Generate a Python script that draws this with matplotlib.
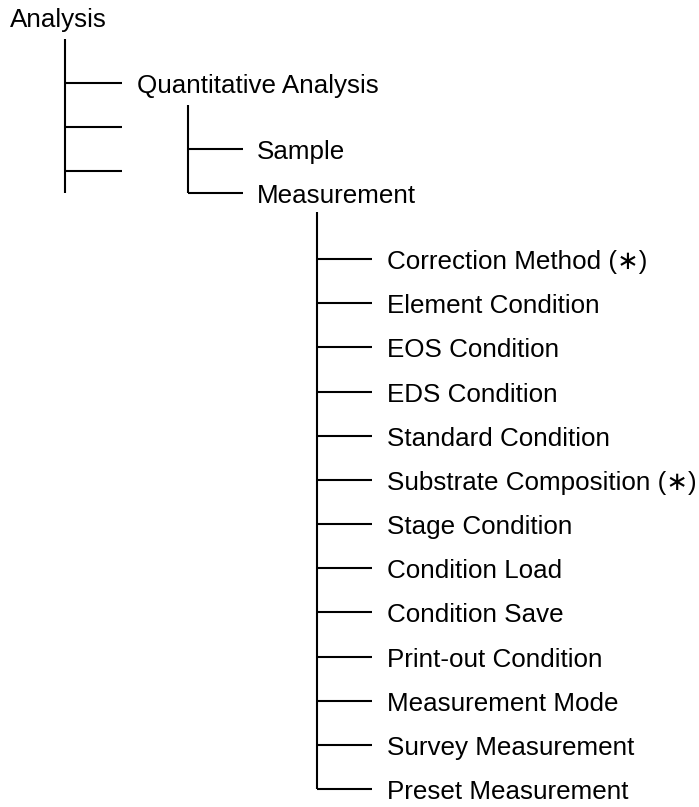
import matplotlib
matplotlib.use("Agg")
import matplotlib.pyplot as plt

# tree content
root = "Analysis"
level1 = ["Quantitative Analysis", "", ""]
level2 = ["Sample", "Measurement"]
level3 = ["Correction Method (\u2217)", "Element Condition", "EOS Condition", "EDS Condition",
          "Standard Condition", "Substrate Composition (\u2217)", "Stage Condition",
          "Condition Load", "Condition Save", "Print-out Condition", "Measurement Mode",
          "Survey Measurement", "Preset Measurement"]

W, H = 699, 807
plt.rcParams["font.family"] = ["Liberation Sans", "DejaVu Sans"]
fig = plt.figure(figsize=(W / 100, H / 100), dpi=100)
ax = fig.add_axes([0, 0, 1, 1])
ax.set_xlim(0, W); ax.set_ylim(H, 0); ax.axis("off")

FS = 18.7; LW = 1.5; DY = 10   # baseline offset below branch line


def branch(x0, y_top, ys, x1, xt, labels, last_is_end=True):
    y_end = ys[-1] + (0 if last_is_end else 22)
    ax.plot([x0, x0], [y_top, y_end], color="k", lw=LW, solid_capstyle="butt")
    for y, lab in zip(ys, labels):
        ax.plot([x0, x1], [y, y], color="k", lw=LW, solid_capstyle="butt")
        if lab:
            ax.text(xt, y + DY, lab, fontsize=FS, va="baseline", ha="left")


ax.text(10, 27, root, fontsize=FS, va="baseline", ha="left")
branch(65, 39, [83 + 44 * i for i in range(len(level1))], 122, 137, level1, last_is_end=False)
branch(188, 105, [149 + 44 * i for i in range(len(level2))], 243, 257, level2)
branch(317, 212, [259 + 44.17 * i for i in range(len(level3))], 372, 387, level3)

fig.savefig("out.png", dpi=100)
